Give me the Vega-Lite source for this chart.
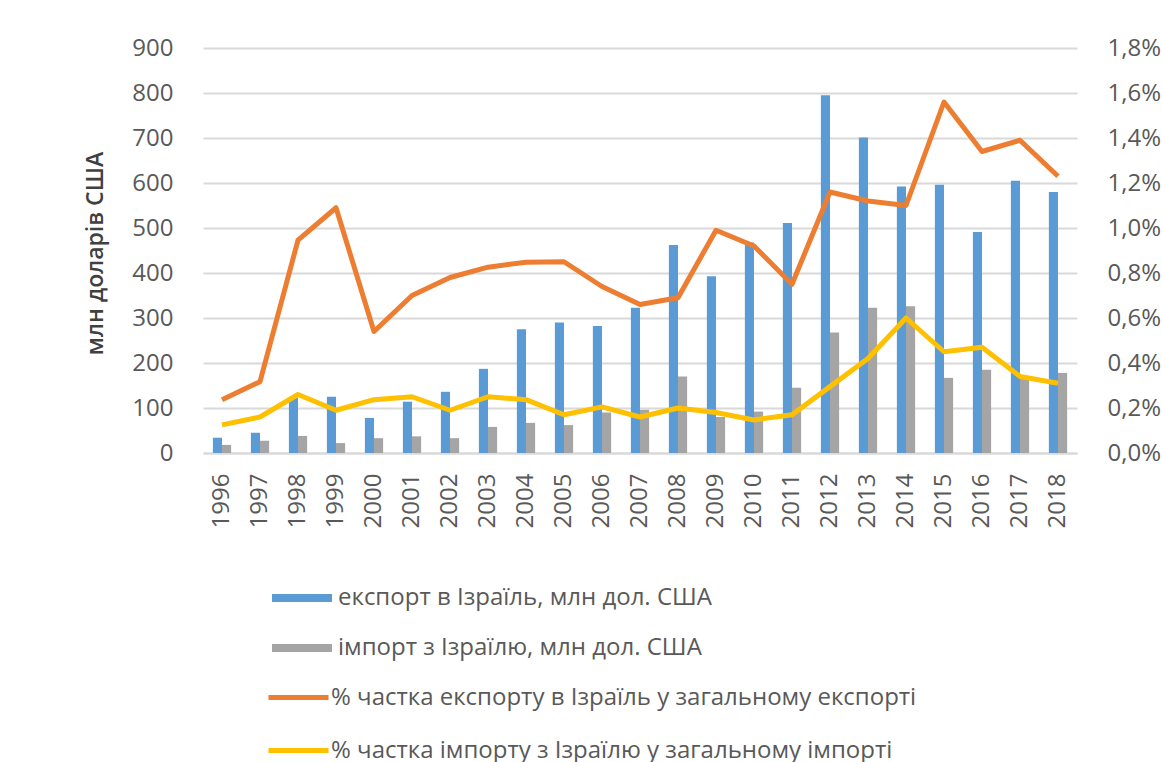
{
  "$schema": "https://vega.github.io/schema/vega-lite/v6.json",
  "width": 874,
  "height": 405,
  "autosize": {"type": "none"},
  "padding": {"left": 203, "top": 48, "right": 85, "bottom": 309},
  "background": "white",
  "config": {
    "locale": {"number": {"decimal": ",", "thousands": " ", "grouping": [3], "currency": ["", ""]}},
    "font": "Open Sans",
    "view": {"stroke": null}
  },
  "datasets": {
    "bars": [
      {"year": "1996", "s": "експорт в Ізраїль, млн дол. США", "v": 34},
      {"year": "1997", "s": "експорт в Ізраїль, млн дол. США", "v": 45},
      {"year": "1998", "s": "експорт в Ізраїль, млн дол. США", "v": 123},
      {"year": "1999", "s": "експорт в Ізраїль, млн дол. США", "v": 125},
      {"year": "2000", "s": "експорт в Ізраїль, млн дол. США", "v": 78},
      {"year": "2001", "s": "експорт в Ізраїль, млн дол. США", "v": 114},
      {"year": "2002", "s": "експорт в Ізраїль, млн дол. США", "v": 136},
      {"year": "2003", "s": "експорт в Ізраїль, млн дол. США", "v": 187},
      {"year": "2004", "s": "експорт в Ізраїль, млн дол. США", "v": 275},
      {"year": "2005", "s": "експорт в Ізраїль, млн дол. США", "v": 290},
      {"year": "2006", "s": "експорт в Ізраїль, млн дол. США", "v": 282},
      {"year": "2007", "s": "експорт в Ізраїль, млн дол. США", "v": 323},
      {"year": "2008", "s": "експорт в Ізраїль, млн дол. США", "v": 462},
      {"year": "2009", "s": "експорт в Ізраїль, млн дол. США", "v": 393},
      {"year": "2010", "s": "експорт в Ізраїль, млн дол. США", "v": 468},
      {"year": "2011", "s": "експорт в Ізраїль, млн дол. США", "v": 511},
      {"year": "2012", "s": "експорт в Ізраїль, млн дол. США", "v": 795},
      {"year": "2013", "s": "експорт в Ізраїль, млн дол. США", "v": 701},
      {"year": "2014", "s": "експорт в Ізраїль, млн дол. США", "v": 592},
      {"year": "2015", "s": "експорт в Ізраїль, млн дол. США", "v": 596},
      {"year": "2016", "s": "експорт в Ізраїль, млн дол. США", "v": 491},
      {"year": "2017", "s": "експорт в Ізраїль, млн дол. США", "v": 605},
      {"year": "2018", "s": "експорт в Ізраїль, млн дол. США", "v": 580},
      {"year": "1996", "s": "імпорт з Ізраїлю, млн дол. США", "v": 18},
      {"year": "1997", "s": "імпорт з Ізраїлю, млн дол. США", "v": 27},
      {"year": "1998", "s": "імпорт з Ізраїлю, млн дол. США", "v": 38},
      {"year": "1999", "s": "імпорт з Ізраїлю, млн дол. США", "v": 22},
      {"year": "2000", "s": "імпорт з Ізраїлю, млн дол. США", "v": 33},
      {"year": "2001", "s": "імпорт з Ізраїлю, млн дол. США", "v": 37},
      {"year": "2002", "s": "імпорт з Ізраїлю, млн дол. США", "v": 33},
      {"year": "2003", "s": "імпорт з Ізраїлю, млн дол. США", "v": 58},
      {"year": "2004", "s": "імпорт з Ізраїлю, млн дол. США", "v": 67},
      {"year": "2005", "s": "імпорт з Ізраїлю, млн дол. США", "v": 62},
      {"year": "2006", "s": "імпорт з Ізраїлю, млн дол. США", "v": 90},
      {"year": "2007", "s": "імпорт з Ізраїлю, млн дол. США", "v": 96},
      {"year": "2008", "s": "імпорт з Ізраїлю, млн дол. США", "v": 170},
      {"year": "2009", "s": "імпорт з Ізраїлю, млн дол. США", "v": 80},
      {"year": "2010", "s": "імпорт з Ізраїлю, млн дол. США", "v": 92},
      {"year": "2011", "s": "імпорт з Ізраїлю, млн дол. США", "v": 145},
      {"year": "2012", "s": "імпорт з Ізраїлю, млн дол. США", "v": 268},
      {"year": "2013", "s": "імпорт з Ізраїлю, млн дол. США", "v": 323},
      {"year": "2014", "s": "імпорт з Ізраїлю, млн дол. США", "v": 326},
      {"year": "2015", "s": "імпорт з Ізраїлю, млн дол. США", "v": 167},
      {"year": "2016", "s": "імпорт з Ізраїлю, млн дол. США", "v": 185},
      {"year": "2017", "s": "імпорт з Ізраїлю, млн дол. США", "v": 165},
      {"year": "2018", "s": "імпорт з Ізраїлю, млн дол. США", "v": 178}
    ],
    "lines": [
      {"year": "1996", "s": "% частка експорту в Ізраїль у загальному експорті", "v": 0.00237},
      {"year": "1997", "s": "% частка експорту в Ізраїль у загальному експорті", "v": 0.00317},
      {"year": "1998", "s": "% частка експорту в Ізраїль у загальному експорті", "v": 0.00946},
      {"year": "1999", "s": "% частка експорту в Ізраїль у загальному експорті", "v": 0.0109},
      {"year": "2000", "s": "% частка експорту в Ізраїль у загальному експорті", "v": 0.0054},
      {"year": "2001", "s": "% частка експорту в Ізраїль у загальному експорті", "v": 0.0070},
      {"year": "2002", "s": "% частка експорту в Ізраїль у загальному експорті", "v": 0.0078},
      {"year": "2003", "s": "% частка експорту в Ізраїль у загальному експорті", "v": 0.00826},
      {"year": "2004", "s": "% частка експорту в Ізраїль у загальному експорті", "v": 0.00848},
      {"year": "2005", "s": "% частка експорту в Ізраїль у загальному експорті", "v": 0.0085},
      {"year": "2006", "s": "% частка експорту в Ізраїль у загальному експорті", "v": 0.0074},
      {"year": "2007", "s": "% частка експорту в Ізраїль у загальному експорті", "v": 0.0066},
      {"year": "2008", "s": "% частка експорту в Ізраїль у загальному експорті", "v": 0.0069},
      {"year": "2009", "s": "% частка експорту в Ізраїль у загальному експорті", "v": 0.0099},
      {"year": "2010", "s": "% частка експорту в Ізраїль у загальному експорті", "v": 0.0092},
      {"year": "2011", "s": "% частка експорту в Ізраїль у загальному експорті", "v": 0.0075},
      {"year": "2012", "s": "% частка експорту в Ізраїль у загальному експорті", "v": 0.0116},
      {"year": "2013", "s": "% частка експорту в Ізраїль у загальному експорті", "v": 0.0112},
      {"year": "2014", "s": "% частка експорту в Ізраїль у загальному експорті", "v": 0.0110},
      {"year": "2015", "s": "% частка експорту в Ізраїль у загальному експорті", "v": 0.0156},
      {"year": "2016", "s": "% частка експорту в Ізраїль у загальному експорті", "v": 0.0134},
      {"year": "2017", "s": "% частка експорту в Ізраїль у загальному експорті", "v": 0.0139},
      {"year": "2018", "s": "% частка експорту в Ізраїль у загальному експорті", "v": 0.0123},
      {"year": "1996", "s": "% частка імпорту з Ізраїлю у загальному імпорті", "v": 0.00125},
      {"year": "1997", "s": "% частка імпорту з Ізраїлю у загальному імпорті", "v": 0.0016},
      {"year": "1998", "s": "% частка імпорту з Ізраїлю у загальному імпорті", "v": 0.0026},
      {"year": "1999", "s": "% частка імпорту з Ізраїлю у загальному імпорті", "v": 0.0019},
      {"year": "2000", "s": "% частка імпорту з Ізраїлю у загальному імпорті", "v": 0.00237},
      {"year": "2001", "s": "% частка імпорту з Ізраїлю у загальному імпорті", "v": 0.0025},
      {"year": "2002", "s": "% частка імпорту з Ізраїлю у загальному імпорті", "v": 0.0019},
      {"year": "2003", "s": "% частка імпорту з Ізраїлю у загальному імпорті", "v": 0.0025},
      {"year": "2004", "s": "% частка імпорту з Ізраїлю у загальному імпорті", "v": 0.00237},
      {"year": "2005", "s": "% частка імпорту з Ізраїлю у загальному імпорті", "v": 0.0017},
      {"year": "2006", "s": "% частка імпорту з Ізраїлю у загальному імпорті", "v": 0.00205},
      {"year": "2007", "s": "% частка імпорту з Ізраїлю у загальному імпорті", "v": 0.0016},
      {"year": "2008", "s": "% частка імпорту з Ізраїлю у загальному імпорті", "v": 0.0020},
      {"year": "2009", "s": "% частка імпорту з Ізраїлю у загальному імпорті", "v": 0.0018},
      {"year": "2010", "s": "% частка імпорту з Ізраїлю у загальному імпорті", "v": 0.00147},
      {"year": "2011", "s": "% частка імпорту з Ізраїлю у загальному імпорті", "v": 0.0017},
      {"year": "2012", "s": "% частка імпорту з Ізраїлю у загальному імпорті", "v": 0.00295},
      {"year": "2013", "s": "% частка імпорту з Ізраїлю у загальному імпорті", "v": 0.0042},
      {"year": "2014", "s": "% частка імпорту з Ізраїлю у загальному імпорті", "v": 0.0060},
      {"year": "2015", "s": "% частка імпорту з Ізраїлю у загальному імпорті", "v": 0.0045},
      {"year": "2016", "s": "% частка імпорту з Ізраїлю у загальному імпорті", "v": 0.0047},
      {"year": "2017", "s": "% частка імпорту з Ізраїлю у загальному імпорті", "v": 0.0034},
      {"year": "2018", "s": "% частка імпорту з Ізраїлю у загальному імпорті", "v": 0.0031}
    ]
  },
  "encoding": {
    "x": {
      "field": "year",
      "type": "ordinal",
      "scale": {"paddingInner": 0.52, "paddingOuter": 0.26},
      "axis": {
        "title": null,
        "labelAngle": -90,
        "labelFontSize": 24,
        "labelColor": "#595959",
        "ticks": false,
        "domainColor": "#d9d9d9",
        "domainWidth": 2,
        "labelPadding": 20,
        "grid": false
      }
    }
  },
  "layer": [
    {
      "data": {"name": "bars"},
      "mark": {"type": "bar"},
      "encoding": {
        "xOffset": {"field": "s", "type": "nominal", "sort": ["експорт в Ізраїль, млн дол. США", "імпорт з Ізраїлю, млн дол. США"]},
        "y": {
          "field": "v",
          "type": "quantitative",
          "scale": {"domain": [0, 900]},
          "axis": {
            "title": "млн доларів США",
            "titleFontSize": 23,
            "titleFontWeight": 600,
            "titleColor": "#404040",
            "titleX": -108,
            "titleY": 205,
            "titleAngle": -90,
            "titleAlign": "center",
            "titleBaseline": "middle",
            "values": [0, 100, 200, 300, 400, 500, 600, 700, 800, 900],
            "labelFontSize": 24,
            "labelColor": "#595959",
            "labelPadding": 30,
            "ticks": false,
            "domain": false,
            "gridColor": "#d9d9d9",
            "gridWidth": 2
          }
        },
        "color": {
          "field": "s",
          "type": "nominal",
          "scale": {
            "domain": ["експорт в Ізраїль, млн дол. США", "імпорт з Ізраїлю, млн дол. США"],
            "range": ["#5b9bd5", "#a5a5a5"]
          },
          "legend": {
            "orient": "none",
            "legendX": 69,
            "legendY": 520,
            "direction": "vertical",
            "title": null,
            "symbolType": "M-1,-0.13H1V0.13H-1Z",
            "symbolSize": 3600,
            "symbolStrokeWidth": 0,
            "symbolOpacity": 1,
            "labelFontSize": 24,
            "labelColor": "#595959",
            "labelOffset": 6,
            "rowPadding": 8,
            "labelLimit": 800
          }
        }
      }
    },
    {
      "data": {"name": "lines"},
      "mark": {"type": "line", "strokeWidth": 5, "strokeJoin": "round"},
      "encoding": {
        "y": {
          "field": "v",
          "type": "quantitative",
          "scale": {"domain": [0, 0.018]},
          "axis": {
            "orient": "right",
            "title": null,
            "values": [0, 0.002, 0.004, 0.006, 0.008, 0.01, 0.012, 0.014, 0.016, 0.018],
            "format": ".1%",
            "labelFontSize": 24,
            "labelColor": "#595959",
            "labelPadding": 30,
            "ticks": false,
            "domain": false,
            "grid": false
          }
        },
        "stroke": {
          "field": "s",
          "type": "nominal",
          "scale": {
            "domain": ["% частка експорту в Ізраїль у загальному експорті", "% частка імпорту з Ізраїлю у загальному імпорті"],
            "range": ["#ed7d31", "#ffc000"]
          },
          "legend": {
            "orient": "none",
            "legendX": 63,
            "legendY": 617,
            "direction": "vertical",
            "title": null,
            "symbolType": "stroke",
            "symbolSize": 3600,
            "symbolStrokeWidth": 5,
            "labelFontSize": 24,
            "labelColor": "#595959",
            "labelOffset": 0,
            "rowPadding": 8,
            "labelLimit": 800
          }
        }
      }
    }
  ],
  "resolve": {"scale": {"y": "independent"}}
}
